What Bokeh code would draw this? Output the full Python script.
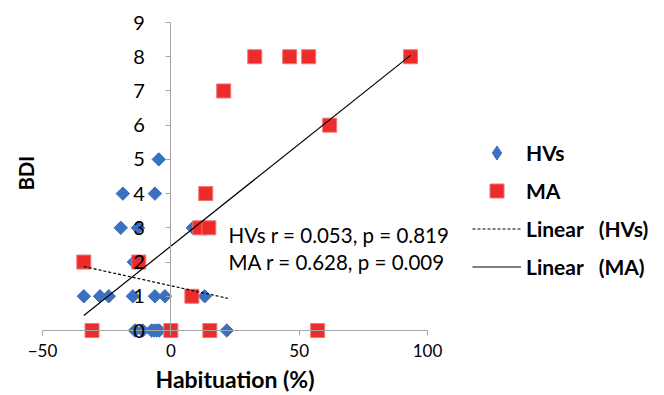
import numpy as np
from bokeh.plotting import figure
from bokeh.models import Legend, LegendItem, Label, FixedTicker
from bokeh.embed import file_html
from bokeh.resources import INLINE

# ---- data ----
hv_x = [-4.7, -18.7, -6.2, -19.5, -12.8, 8.6, -14.4,
        -33.9, -27.6, -24.2, -14.8, -6.2, -2.3, 13.2,
        -14.0, -11.0, -7.5, -6.5, -5.5, -4.5, 21.8]
hv_y = [5, 4, 4, 3, 3, 3, 2,
        1, 1, 1, 1, 1, 1, 1,
        0, 0, 0, 0, 0, 0, 0]

ma_x = [32.7, 46.3, 53.7, 93.4, 20.6, 61.9, 13.6, 11.3, 14.8,
        -33.9, -12.5, 8.2, -30.7, 0.0, 15.2, 57.2]
ma_y = [8, 8, 8, 8, 7, 6, 4, 3, 3,
        2, 2, 1, 0, 0, 0, 0]

# linear trend lines (end points)
hv_fit_x = [-33.9, 22.2]
hv_fit_y = [1.87, 0.94]
ma_fit_x = [-33.9, 93.4]
ma_fit_y = [0.44, 8.04]

x_ticks = [-50, 0, 50, 100]
y_ticks = [0, 1, 2, 3, 4, 5, 6, 7, 8, 9]
x_bounds = (-50, 100)
y_bounds = (0, 9)
stats_lines = ["HVs r = 0.053, p = 0.819", "MA r = 0.628, p = 0.009"]
legend_labels = ["HVs", "MA", "Linear\u00a0\u00a0\u00a0(HVs)", "Linear\u00a0\u00a0\u00a0(MA)"]
x_title = "Habituation (%)"
y_title = "BDI"

FONT = "Lato"
AXIS_GREY = "#a6a6a6"
BLUE = "#3B6FC0"
RED = "#EE2B2B"

W, H = 664, 395
# plot area of the axes inside the canvas (pixels)
L, R, T, B = 42, 427, 22, 330
sx = (R - L) / (x_bounds[1] - x_bounds[0])
sy = (B - T) / (y_bounds[1] - y_bounds[0])
x_rng = (x_bounds[0] - L / sx, x_bounds[1] + (W - R) / sx)
y_rng = (y_bounds[0] - (H - B) / sy, y_bounds[1] + T / sy)

p = figure(width=W, height=H, x_range=x_rng, y_range=y_rng,
           min_border=0, output_backend="svg", toolbar_location=None)
p.xgrid.visible = False
p.ygrid.visible = False
p.outline_line_color = None
p.background_fill_color = "white"
p.border_fill_color = "white"

xa = p.xaxis[0]
ya = p.yaxis[0]
for ax in (xa, ya):
    ax.axis_line_color = AXIS_GREY
    ax.major_tick_line_color = AXIS_GREY
    ax.minor_tick_line_color = None
    ax.major_tick_in = 0
    ax.major_tick_out = 5
    ax.major_label_text_font = FONT
    ax.major_label_text_color = "black"
    ax.fixed_location = 0

xa.bounds = x_bounds
xa.ticker = FixedTicker(ticks=x_ticks)
xa.major_label_text_font_size = "17px"
xa.major_label_standoff = 8
xa.axis_label = x_title
xa.axis_label_text_font = FONT
xa.axis_label_text_font_style = "bold"
xa.axis_label_text_font_size = "23px"
xa.axis_label_text_color = "black"
xa.axis_label_standoff = 5

ya.bounds = y_bounds
ya.ticker = FixedTicker(ticks=y_ticks)
ya.major_label_text_font_size = "20px"
ya.major_label_standoff = 21

# legend-only diamond (hidden under the plotted markers)
hv_proxy = p.scatter(hv_x, hv_y, marker="diamond", size=11,
                     fill_color=BLUE, line_color=BLUE)
# data markers
hv_r = p.scatter(hv_x, hv_y, marker="square", size=9.5, angle=np.pi / 4,
                 fill_color=BLUE, line_color=BLUE, line_width=1)
ma_r = p.scatter(ma_x, ma_y, marker="square", size=14,
                 fill_color=RED, line_color="#F27474", line_width=1)

# trend lines
hv_l = p.line(hv_fit_x, hv_fit_y, line_color="black", line_width=1.2, line_dash="3 2")
ma_l = p.line(ma_fit_x, ma_fit_y, line_color="black", line_width=1.2)

legend = Legend(items=[
    LegendItem(label=legend_labels[0], renderers=[hv_proxy]),
    LegendItem(label=legend_labels[1], renderers=[ma_r]),
    LegendItem(label=legend_labels[2], renderers=[hv_l]),
    LegendItem(label=legend_labels[3], renderers=[ma_l]),
], location=(472, 111))
legend.glyph_width = 49
legend.glyph_height = 35
legend.spacing = 3
legend.padding = 0
legend.margin = 0
legend.border_line_color = None
legend.background_fill_alpha = 0
legend.label_text_font = FONT
legend.label_text_font_style = "bold"
legend.label_text_font_size = "21px"
legend.label_text_color = "black"
legend.label_standoff = 5
p.add_layout(legend)

# statistics text
for i, t in enumerate(stats_lines):
    p.add_layout(Label(x=22.5, y=2.78 - 0.79 * i, text=t, text_font=FONT,
                       text_font_size="20.5px", text_baseline="middle",
                       text_color="black"))

# y axis title
p.add_layout(Label(x=x_rng[0] + 25 / sx, y=4.6, text=y_title, angle=np.pi / 2,
                   text_align="center", text_baseline="middle",
                   text_font=FONT, text_font_style="bold",
                   text_font_size="20px", text_color="black"))

open("out.html", "w").write(file_html(p, INLINE))
